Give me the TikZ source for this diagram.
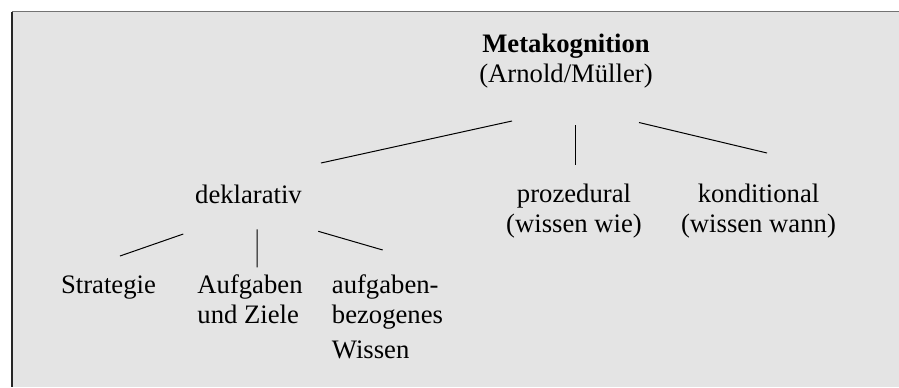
\documentclass[tikz,border=0pt]{standalone}
\usepackage{fontspec}
\setmainfont{Liberation Serif}
\usepackage{xcolor}
\usepackage{tikz}
\usetikzlibrary{positioning,calc}
\definecolor{panelgray}{RGB}{228,228,228}

\begin{document}
\begin{tikzpicture}[
    x=0.45pt, y=-0.45pt,
    lbl/.style={inner sep=0pt, anchor=base, font=\fontsize{12}{13.5}\selectfont},
    branch/.style={draw=black, line width=0.45pt}
]
    \useasboundingbox (0,0) rectangle (899,387);
    % panel
    \fill[panelgray] (12,11.5) rectangle (899,387);
    \draw[black!55, line width=0.6pt] (12,11.5) -- (899,11.5);
    \draw[black!85, line width=0.6pt] (12,11.5) -- (12,387);

    % top level (base = last line)
    \node[lbl, align=center] (meta) at (566,82) {\textbf{Metakognition}\\(Arnold/Müller)};

    % second level
    \node[lbl] (dekl) at (248.5,203) {deklarativ};
    \node[lbl, align=center] (proz) at (574,232) {prozedural\\(wissen wie)};
    \node[lbl, align=center] (kond) at (758.5,232) {konditional\\(wissen wann)};

    % third level
    \node[lbl] (strat) at (108.5,293) {Strategie};
    \node[lbl, anchor=base west, align=left] (aufg) at (197,323) {Aufgaben\\und Ziele};
    \node[lbl, anchor=base west, align=left] (bez) at (331.5,358) {aufgaben-\\bezogenes\\[2.25pt]Wissen};

    \draw[branch] ([shift={(-54,39)}]meta.base) -- ([shift={(72.5,-40)}]dekl.base);
    \draw[branch] ([shift={(9.5,43)}]meta.base) -- ([shift={(1.5,-67)}]proz.base);
    \draw[branch] ([shift={(73,40.5)}]meta.base) -- ([shift={(8.5,-79)}]kond.base);

    \draw[branch] ([shift={(-65.2,31)}]dekl.base) -- ([shift={(11.5,-37)}]strat.base);
    \draw[branch] ([shift={(8.5,26.3)}]dekl.base) -- ([shift={(60,-55.7)}]aufg.base west);
    \draw[branch] ([shift={(69.8,28.3)}]dekl.base) -- ([shift={(51.2,-108)}]bez.base west);

\end{tikzpicture}
\end{document}
